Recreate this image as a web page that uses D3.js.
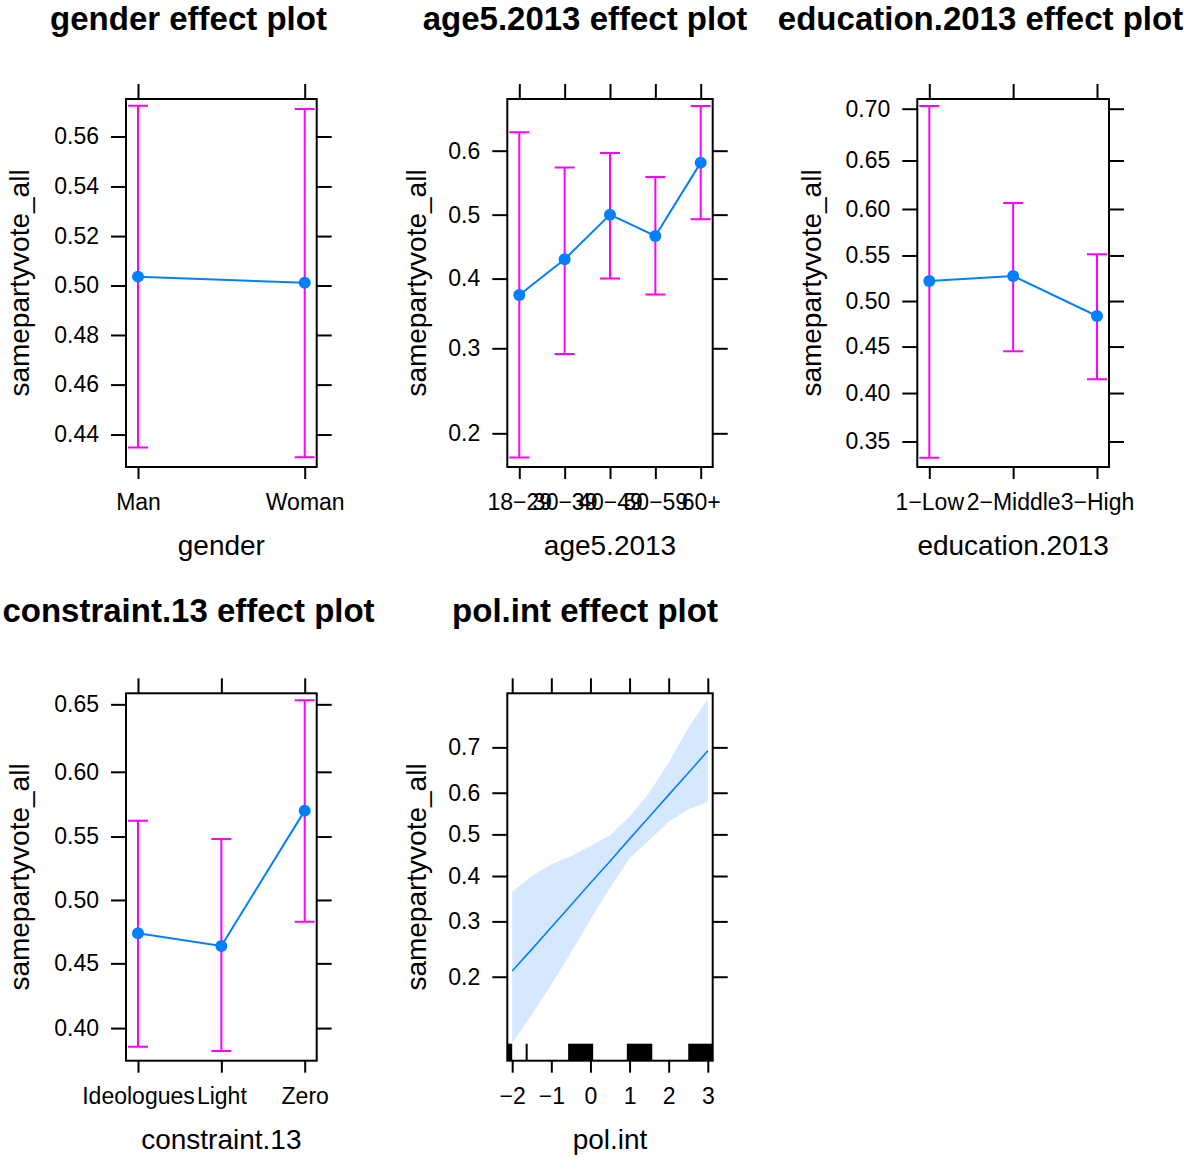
<!DOCTYPE html>
<html>
<head>
<meta charset="utf-8">
<script src="https://cdn.jsdelivr.net/npm/d3@7"></script>
<style>
  body { margin: 0; background: #fff; }
  svg text { font-family: 'Liberation Sans', Arial, Helvetica, sans-serif; }
</style>
</head>
<body>
<div id="chart"></div>
<script>
const WIDTH = 1184;
const HEIGHT = 1169;

const LINE = '#0080ff';
const BAR = '#ff00ff';
const BAND = '#d6e8ff';
const YLAB = 'samepartyvote_all';

// gender
const genderLevels = ['Man', 'Woman'];
const genderFit = [0.5036, 0.5011];
const genderLower = [0.4348, 0.4310];
const genderUpper = [0.5722, 0.5709];
const genderTicks = [0.44, 0.46, 0.48, 0.50, 0.52, 0.54, 0.56];
const genderTickLabels = ['0.44', '0.46', '0.48', '0.50', '0.52', '0.54', '0.56'];

// age5.2013
const ageLevels = ['18-29', '30-39', '40-49', '50-59', '60+'];
const ageFit = [0.3754, 0.4297, 0.5000, 0.4663, 0.5817];
const ageLower = [0.1766, 0.2926, 0.4000, 0.3760, 0.4927];
const ageUpper = [0.6277, 0.5740, 0.5965, 0.5594, 0.6657];
const ageTicks = [0.2, 0.3, 0.4, 0.5, 0.6];
const ageTickLabels = ['0.2', '0.3', '0.4', '0.5', '0.6'];

// education.2013
const eduLevels = ['1-Low', '2-Middle', '3-High'];
const eduFit = [0.5220, 0.5275, 0.4835];
const eduLower = [0.3340, 0.4450, 0.4146];
const eduUpper = [0.7025, 0.6063, 0.5513];
const eduTicks = [0.35, 0.40, 0.45, 0.50, 0.55, 0.60, 0.65, 0.70];
const eduTickLabels = ['0.35', '0.40', '0.45', '0.50', '0.55', '0.60', '0.65', '0.70'];

// constraint.13
const conLevels = ['Ideologues', 'Light', 'Zero'];
const conFit = [0.4737, 0.4637, 0.5702];
const conLower = [0.3860, 0.3827, 0.4828];
const conUpper = [0.5624, 0.5480, 0.6530];
const conTicks = [0.40, 0.45, 0.50, 0.55, 0.60, 0.65];
const conTickLabels = ['0.40', '0.45', '0.50', '0.55', '0.60', '0.65'];

// pol.int
const polX = [-2, -1.5, -1, -0.5, 0, 0.5, 1, 1.5, 2, 2.5, 3];
const polFit = [0.209, 0.246, 0.288, 0.334, 0.384, 0.435, 0.489, 0.542, 0.595, 0.645, 0.693];
const polLower = [0.116, 0.147, 0.188, 0.240, 0.304, 0.373, 0.442, 0.486, 0.531, 0.560, 0.578];
const polUpper = [0.364, 0.400, 0.428, 0.447, 0.472, 0.498, 0.543, 0.600, 0.668, 0.738, 0.789];
const polTicks = [0.2, 0.3, 0.4, 0.5, 0.6, 0.7];
const polTickLabels = ['0.2', '0.3', '0.4', '0.5', '0.6', '0.7'];
const polXTicks = [-2, -1, 0, 1, 2, 3];
const polXTickLabels = ['\u22122', '\u22121', '0', '1', '2', '3'];
const polRugBlocks = [[-2.13, -2.0], [-0.57, 0.07], [0.93, 1.58], [2.5, 3.12]];
const polRugLines = [-1.63];

const logit = p => Math.log(p / (1 - p));
const minus = s => s.replace(/-/g, '\u2212');

const svg = d3.select('#chart').append('svg')
  .attr('width', WIDTH)
  .attr('height', HEIGHT);

svg.append('rect').attr('width', WIDTH).attr('height', HEIGHT).attr('fill', '#fff');

const styleAxis = (g, size) => {
  g.select('.domain').remove();
  g.selectAll('line').attr('stroke', '#000').attr('stroke-width', 2);
  g.attr('font-size', size)
    .attr('font-family', "'Liberation Sans', Arial, Helvetica, sans-serif");
  g.selectAll('text').attr('fill', '#000');
};

const drawPanel = (p, idx) => {
  const [x0, y0, x1, y1] = p.box;
  const g = svg.append('g').attr('class', `panel ${p.name}`);

  const y = d3.scaleLinear().domain(p.ylim.map(logit)).range([y1, y0]);
  const yp = v => y(logit(v));

  let x;
  if (p.levels) {
    x = d3.scalePoint().domain(p.levels).range([x0 + 12, x1 - 12]);
  } else {
    x = d3.scaleLinear().domain(p.xlim).range([x0, x1]);
  }

  // titulo
  g.append('text')
    .attr('x', p.titleX)
    .attr('y', p.titleY)
    .attr('text-anchor', 'middle')
    .attr('font-size', 33)
    .attr('font-weight', 'bold')
    .text(`${p.name} effect plot`);

  const clipId = `clip${idx}`;
  g.append('clipPath').attr('id', clipId)
    .append('rect')
    .attr('x', x0).attr('y', y0)
    .attr('width', x1 - x0).attr('height', y1 - y0);

  const body = g.append('g').attr('clip-path', `url(#${clipId})`);

  if (p.levels) {
    const rows = p.levels.map((lv, i) => ({ lv, fit: p.fit[i], lo: p.lower[i], hi: p.upper[i] }));

    body.append('path')
      .datum(rows)
      .attr('fill', 'none')
      .attr('stroke', LINE)
      .attr('stroke-width', 2)
      .attr('d', d3.line().x(d => x(d.lv)).y(d => yp(d.fit)));

    body.selectAll('.bar')
      .data(rows).enter()
      .append('path')
      .attr('class', 'bar')
      .attr('fill', 'none')
      .attr('stroke', BAR)
      .attr('stroke-width', 2)
      .attr('d', d => {
        const cx = x(d.lv);
        const a = yp(d.hi);
        const b = yp(d.lo);
        return `M${cx},${a}V${b}M${cx - 10},${a}H${cx + 10}M${cx - 10},${b}H${cx + 10}`;
      });

    body.selectAll('circle')
      .data(rows).enter()
      .append('circle')
      .attr('cx', d => x(d.lv))
      .attr('cy', d => yp(d.fit))
      .attr('r', 6)
      .attr('fill', LINE);
  } else {
    const rows = p.xs.map((v, i) => ({ v, fit: p.fit[i], lo: p.lower[i], hi: p.upper[i] }));

    body.append('path')
      .datum(rows)
      .attr('fill', BAND)
      .attr('d', d3.area().x(d => x(d.v)).y0(d => yp(d.lo)).y1(d => yp(d.hi)));

    body.append('path')
      .datum(rows)
      .attr('fill', 'none')
      .attr('stroke', LINE)
      .attr('stroke-width', 1.6)
      .attr('d', d3.line().x(d => x(d.v)).y(d => yp(d.fit)));

    body.selectAll('.rugblock')
      .data(p.rugBlocks).enter()
      .append('rect')
      .attr('class', 'rugblock')
      .attr('x', d => x(d[0]))
      .attr('width', d => x(d[1]) - x(d[0]))
      .attr('y', y1 - 17)
      .attr('height', 17)
      .attr('fill', '#000');

    body.selectAll('.rugline')
      .data(p.rugLines).enter()
      .append('line')
      .attr('class', 'rugline')
      .attr('x1', d => x(d)).attr('x2', d => x(d))
      .attr('y1', y1 - 17).attr('y2', y1)
      .attr('stroke', '#000')
      .attr('stroke-width', 2);
  }

  g.append('rect')
    .attr('x', x0).attr('y', y0)
    .attr('width', x1 - x0).attr('height', y1 - y0)
    .attr('fill', 'none')
    .attr('stroke', '#000')
    .attr('stroke-width', 2);

  // ejes
  const yVals = p.yticks.map(logit);
  g.append('g')
    .attr('transform', `translate(${x0},0)`)
    .call(d3.axisLeft(y).tickValues(yVals).tickFormat((d, i) => p.ytickLabels[i])
      .tickSize(15).tickPadding(12))
    .call(a => styleAxis(a, 23));

  g.append('g')
    .attr('transform', `translate(${x1},0)`)
    .call(d3.axisRight(y).tickValues(yVals).tickFormat('').tickSize(15))
    .call(a => styleAxis(a, 23));

  const xTop = p.levels ? d3.axisTop(x) : d3.axisTop(x).tickValues(p.xticks);
  g.append('g')
    .attr('transform', `translate(0,${y0})`)
    .call(xTop.tickFormat('').tickSize(15))
    .call(a => styleAxis(a, 23));

  const xBottom = p.levels
    ? d3.axisBottom(x).tickFormat(d => minus(d))
    : d3.axisBottom(x).tickValues(p.xticks).tickFormat((d, i) => p.xtickLabels[i]);
  g.append('g')
    .attr('transform', `translate(0,${y1})`)
    .call(xBottom.tickSize(12).tickPadding(15))
    .call(a => styleAxis(a, 23));

  g.append('text')
    .attr('x', (x0 + x1) / 2)
    .attr('y', p.xlabY)
    .attr('text-anchor', 'middle')
    .attr('font-size', 28)
    .text(p.name);

  g.append('text')
    .attr('transform', `translate(${p.ylabX},${(y0 + y1) / 2}) rotate(-90)`)
    .attr('text-anchor', 'middle')
    .attr('font-size', 28)
    .text(YLAB);
};

const ROW1 = { top: 99, bottom: 467, titleY: 30, xlabY: 555 };
const ROW2 = { top: 693.3, bottom: 1060.7, titleY: 622, xlabY: 1149 };

const panels = [
  {
    name: 'gender', levels: genderLevels, fit: genderFit, lower: genderLower, upper: genderUpper,
    yticks: genderTicks, ytickLabels: genderTickLabels, ylim: [0.4271, 0.5749],
    box: [126, ROW1.top, 316.7, ROW1.bottom], ylabX: 28.5, titleX: 188.5, titleY: ROW1.titleY, xlabY: ROW1.xlabY,
  },
  {
    name: 'age5.2013', levels: ageLevels, fit: ageFit, lower: ageLower, upper: ageUpper,
    yticks: ageTicks, ytickLabels: ageTickLabels, ylim: [0.168, 0.6755],
    box: [507.3, ROW1.top, 712.7, ROW1.bottom], ylabX: 425.5, titleX: 585, titleY: ROW1.titleY, xlabY: ROW1.xlabY,
  },
  {
    name: 'education.2013', levels: eduLevels, fit: eduFit, lower: eduLower, upper: eduUpper,
    yticks: eduTicks, ytickLabels: eduTickLabels, ylim: [0.3249, 0.7089],
    box: [917.3, ROW1.top, 1109, ROW1.bottom], ylabX: 820.5, titleX: 980.5, titleY: ROW1.titleY, xlabY: ROW1.xlabY,
  },
  {
    name: 'constraint.13', levels: conLevels, fit: conFit, lower: conLower, upper: conUpper,
    yticks: conTicks, ytickLabels: conTickLabels, ylim: [0.3755, 0.6579],
    box: [126, ROW2.top, 316.7, ROW2.bottom], ylabX: 28.5, titleX: 188.5, titleY: ROW2.titleY, xlabY: ROW2.xlabY,
  },
  {
    name: 'pol.int', xs: polX, fit: polFit, lower: polLower, upper: polUpper,
    xticks: polXTicks, xtickLabels: polXTickLabels, xlim: [-2.125, 3.125],
    rugBlocks: polRugBlocks, rugLines: polRugLines,
    yticks: polTicks, ytickLabels: polTickLabels, ylim: [0.0994, 0.798],
    box: [507.3, ROW2.top, 712.7, ROW2.bottom], ylabX: 425.5, titleX: 585, titleY: ROW2.titleY, xlabY: ROW2.xlabY,
  },
];

panels.forEach(drawPanel);
</script>
</body>
</html>
